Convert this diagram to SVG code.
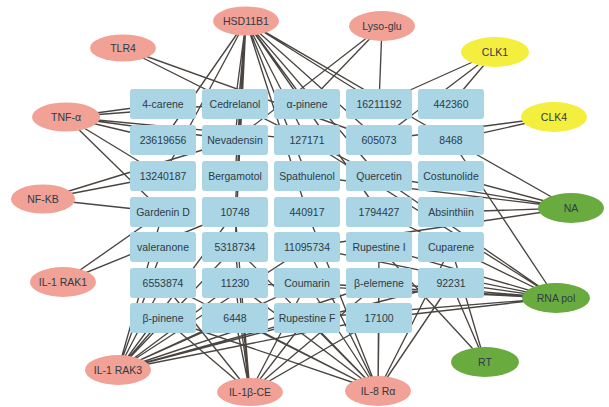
<svg xmlns="http://www.w3.org/2000/svg" width="609" height="407" viewBox="0 0 609 407">
<style>
.e{stroke:#4a4541;stroke-width:1.35;fill:none}
.b{fill:#a9d5e5}
.t{font-family:"Liberation Sans",Arial,sans-serif;font-size:10.5px;fill:#2f3b46;text-anchor:middle;dominant-baseline:central}
.p{fill:#f1a195}
.y{fill:#f4ee3e}
.g{fill:#6aab3f}
</style>
<rect width="609" height="407" fill="#ffffff"/>
<g id="edges" class="e">
<!-- TLR4 -->
<path d="M123 48L307 140M123 48L379 176M123 48L379 140"/>
<!-- HSD11B1 -->
<path d="M246 21L163 140M246 21L163 176M246 21L235 104M246 21L235 140M246 21L235 176M246 21L235 212M246 21L235 247M246 21L307 104M246 21L307 140M246 21L307 176M246 21L307 212M246 21L379 104M246 21L379 140M246 21L379 176M246 21L451 140M246 21L379 212"/>
<!-- Lyso-glu -->
<path d="M382 26L379 104M382 26L307 104M382 26L235 140"/>
<!-- CLK1 -->
<path d="M495 52L379 104M495 52L451 104M495 52L379 140"/>
<!-- CLK4 -->
<path d="M554 117L451 140M554 117L379 140"/>
<!-- NA -->
<path d="M571 208L451 140M571 208L451 176M571 208L379 176M571 208L307 176M571 208L451 212M571 208L307 247"/>
<!-- RNA pol -->
<path d="M556 298L451 140M556 298L379 176M556 298L307 140M556 298L451 247M556 298L451 283M556 298L379 283M556 298L307 283M556 298L379 247M556 298L307 247M556 298L379 318M556 298L307 318M556 298L379 212M556 298L235 283"/>
<!-- RT -->
<path d="M485 362L379 247M485 362L451 283M485 362L451 247"/>
<!-- IL-8 Ra -->
<path d="M378 391L163 318M378 391L235 318M378 391L307 318M378 391L379 318M378 391L163 283M378 391L235 283M378 391L307 283M378 391L379 283M378 391L451 283M378 391L307 247M378 391L379 247M378 391L235 247M378 391L307 212M378 391L451 247"/>
<!-- IL-1b-CE -->
<path d="M250 392L163 318M250 392L235 318M250 392L307 318M250 392L379 318M250 392L163 283M250 392L235 283M250 392L307 283M250 392L235 247M250 392L235 212M250 392L379 283"/>
<!-- IL-1 RAK3 -->
<path d="M118 370L163 318M118 370L235 318M118 370L307 318M118 370L379 318M118 370L163 283M118 370L235 283M118 370L307 283M118 370L379 283M118 370L163 247M118 370L235 247M118 370L163 212M118 370L235 212M118 370L307 247M118 370L451 283"/>
<!-- IL-1 RAK1 -->
<path d="M63 282L163 212M63 282L235 212"/>
<!-- NF-KB -->
<path d="M43 199L163 176M43 199L235 140M43 199L163 212"/>
<!-- TNF-a -->
<path d="M66 117L163 104M66 117L235 104M66 117L163 140M66 117L235 140M66 117L307 140M66 117L163 176M66 117L163 212"/>
</g>
<g id="compounds">
<g id="c-4-carene"><rect class="b" x="130" y="89" width="66" height="30" rx="3"/><text class="t" x="163" y="104">4-carene</text></g>
<g id="c-cedrelanol"><rect class="b" x="202" y="89" width="66" height="30" rx="3"/><text class="t" x="235" y="104">Cedrelanol</text></g>
<g id="c-a-pinene"><rect class="b" x="274" y="89" width="66" height="30" rx="3"/><text class="t" x="307" y="104">α-pinene</text></g>
<g id="c-16211192"><rect class="b" x="346" y="89" width="66" height="30" rx="3"/><text class="t" x="379" y="104">16211192</text></g>
<g id="c-442360"><rect class="b" x="418" y="89" width="66" height="30" rx="3"/><text class="t" x="451" y="104">442360</text></g>

<g id="c-23619656"><rect class="b" x="130" y="125" width="66" height="30" rx="3"/><text class="t" x="163" y="140">23619656</text></g>
<g id="c-nevadensin"><rect class="b" x="202" y="125" width="66" height="30" rx="3"/><text class="t" x="235" y="140">Nevadensin</text></g>
<g id="c-127171"><rect class="b" x="274" y="125" width="66" height="30" rx="3"/><text class="t" x="307" y="140">127171</text></g>
<g id="c-605073"><rect class="b" x="346" y="125" width="66" height="30" rx="3"/><text class="t" x="379" y="140">605073</text></g>
<g id="c-8468"><rect class="b" x="418" y="125" width="66" height="30" rx="3"/><text class="t" x="451" y="140">8468</text></g>

<g id="c-13240187"><rect class="b" x="130" y="161" width="66" height="30" rx="3"/><text class="t" x="163" y="176">13240187</text></g>
<g id="c-bergamotol"><rect class="b" x="202" y="161" width="66" height="30" rx="3"/><text class="t" x="235" y="176">Bergamotol</text></g>
<g id="c-spathulenol"><rect class="b" x="274" y="161" width="66" height="30" rx="3"/><text class="t" x="307" y="176">Spathulenol</text></g>
<g id="c-quercetin"><rect class="b" x="346" y="161" width="66" height="30" rx="3"/><text class="t" x="379" y="176">Quercetin</text></g>
<g id="c-costunolide"><rect class="b" x="418" y="161" width="66" height="30" rx="3"/><text class="t" x="451" y="176">Costunolide</text></g>

<g id="c-gardenin-d"><rect class="b" x="130" y="197" width="66" height="30" rx="3"/><text class="t" x="163" y="212">Gardenin D</text></g>
<g id="c-10748"><rect class="b" x="202" y="197" width="66" height="30" rx="3"/><text class="t" x="235" y="212">10748</text></g>
<g id="c-440917"><rect class="b" x="274" y="197" width="66" height="30" rx="3"/><text class="t" x="307" y="212">440917</text></g>
<g id="c-1794427"><rect class="b" x="346" y="197" width="66" height="30" rx="3"/><text class="t" x="379" y="212">1794427</text></g>
<g id="c-absinthiin"><rect class="b" x="418" y="197" width="66" height="30" rx="3"/><text class="t" x="451" y="212">Absinthiin</text></g>

<g id="c-valeranone"><rect class="b" x="130" y="232" width="66" height="30" rx="3"/><text class="t" x="163" y="247">valeranone</text></g>
<g id="c-5318734"><rect class="b" x="202" y="232" width="66" height="30" rx="3"/><text class="t" x="235" y="247">5318734</text></g>
<g id="c-11095734"><rect class="b" x="274" y="232" width="66" height="30" rx="3"/><text class="t" x="307" y="247">11095734</text></g>
<g id="c-rupestine-i"><rect class="b" x="346" y="232" width="66" height="30" rx="3"/><text class="t" x="379" y="247">Rupestine I</text></g>
<g id="c-cuparene"><rect class="b" x="418" y="232" width="66" height="30" rx="3"/><text class="t" x="451" y="247">Cuparene</text></g>

<g id="c-6553874"><rect class="b" x="130" y="268" width="66" height="30" rx="3"/><text class="t" x="163" y="283">6553874</text></g>
<g id="c-11230"><rect class="b" x="202" y="268" width="66" height="30" rx="3"/><text class="t" x="235" y="283">11230</text></g>
<g id="c-coumarin"><rect class="b" x="274" y="268" width="66" height="30" rx="3"/><text class="t" x="307" y="283">Coumarin</text></g>
<g id="c-b-elemene"><rect class="b" x="346" y="268" width="66" height="30" rx="3"/><text class="t" x="379" y="283">β-elemene</text></g>
<g id="c-92231"><rect class="b" x="418" y="268" width="66" height="30" rx="3"/><text class="t" x="451" y="283">92231</text></g>

<g id="c-b-pinene"><rect class="b" x="130" y="303" width="66" height="30" rx="3"/><text class="t" x="163" y="318">β-pinene</text></g>
<g id="c-6448"><rect class="b" x="202" y="303" width="66" height="30" rx="3"/><text class="t" x="235" y="318">6448</text></g>
<g id="c-rupestine-f"><rect class="b" x="274" y="303" width="66" height="30" rx="3"/><text class="t" x="307" y="318">Rupestine F</text></g>
<g id="c-17100"><rect class="b" x="346" y="303" width="66" height="30" rx="3"/><text class="t" x="379" y="318">17100</text></g>
</g>
<g id="targets">
<g id="t-tlr4"><ellipse class="p" cx="123" cy="48" rx="33" ry="13.5"/><text class="t" x="123" y="48">TLR4</text></g>
<g id="t-hsd11b1"><ellipse class="p" cx="246" cy="21" rx="33" ry="14.5"/><text class="t" x="246" y="21">HSD11B1</text></g>
<g id="t-lyso-glu"><ellipse class="p" cx="382" cy="26" rx="33" ry="15"/><text class="t" x="382" y="26">Lyso-glu</text></g>
<g id="t-clk1"><ellipse class="y" cx="495" cy="52" rx="34" ry="15"/><text class="t" x="495" y="52">CLK1</text></g>
<g id="t-clk4"><ellipse class="y" cx="554" cy="117" rx="33" ry="15"/><text class="t" x="554" y="117">CLK4</text></g>
<g id="t-tnf"><ellipse class="p" cx="66" cy="117" rx="34" ry="14.5"/><text class="t" x="66" y="117">TNF-α</text></g>
<g id="t-nfkb"><ellipse class="p" cx="43" cy="199" rx="32" ry="14.5"/><text class="t" x="43" y="199">NF-KB</text></g>
<g id="t-na"><ellipse class="g" cx="571" cy="208" rx="33" ry="15"/><text class="t" x="571" y="208">NA</text></g>
<g id="t-rak1"><ellipse class="p" cx="63" cy="282" rx="33" ry="15"/><text class="t" x="63" y="282">IL-1 RAK1</text></g>
<g id="t-rnapol"><ellipse class="g" cx="556" cy="298" rx="34" ry="15"/><text class="t" x="556" y="298">RNA pol</text></g>
<g id="t-rt"><ellipse class="g" cx="485" cy="362" rx="34" ry="15"/><text class="t" x="485" y="362">RT</text></g>
<g id="t-rak3"><ellipse class="p" cx="118" cy="370" rx="33" ry="15"/><text class="t" x="118" y="370">IL-1 RAK3</text></g>
<g id="t-il1bce"><ellipse class="p" cx="250" cy="392" rx="33" ry="14"/><text class="t" x="250" y="392">IL-1β-CE</text></g>
<g id="t-il8ra"><ellipse class="p" cx="378" cy="391" rx="33" ry="15"/><text class="t" x="378" y="391">IL-8 Rα</text></g>
</g>
</svg>
